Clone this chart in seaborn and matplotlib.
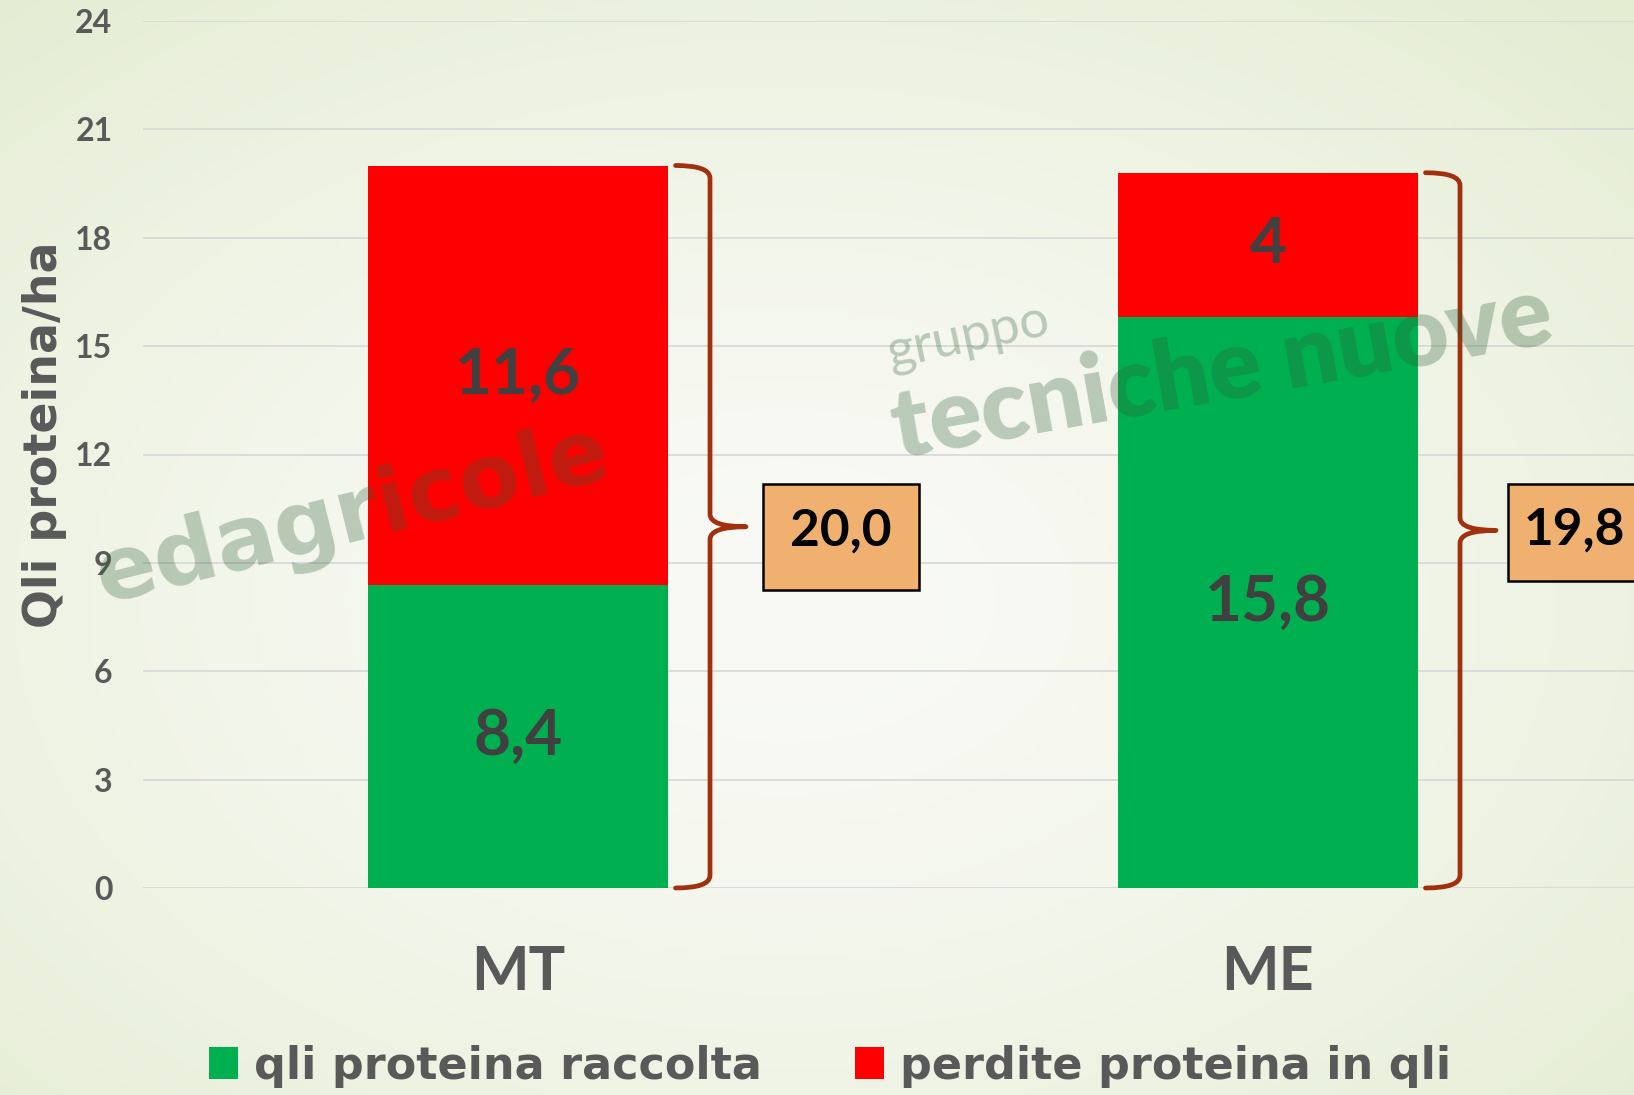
import numpy as np
import pandas as pd
import matplotlib
matplotlib.use("Agg")
import matplotlib.pyplot as plt
import seaborn as sns
from matplotlib.path import Path
from matplotlib.patches import PathPatch, Rectangle, Patch

# ---- data ----
categories = ["MT", "ME"]
raccolta = [8.4, 15.8]
perdite = [11.6, 4.0]
totals_labels = ["20,0", "19,8"]
raccolta_labels = ["8,4", "15,8"]
perdite_labels = ["11,6", "4"]
y_ticks = [0, 3, 6, 9, 12, 15, 18, 21, 24]
ylabel = "Qli proteina/ha"
legend_labels = ["qli proteina raccolta", "perdite proteina in qli"]

GREEN = "#00B050"
RED = "#FF0000"
BRACE = "#A0300E"
BOX = "#F0B170"
TXT = "#404040"
TICK = "#595959"

sns.set_theme(style="white")
FONT = ["Lato", "DejaVu Sans"]
WIDE = ["DejaVu Sans"]
plt.rcParams["font.family"] = FONT

W, H = 1634, 1095
fig = plt.figure(figsize=(W / 100, H / 100), dpi=100)

# background gradient
bg = fig.add_axes([0, 0, 1, 1], zorder=-10)
yy, xx = np.mgrid[0:1:300j, 0:1:450j]
r = np.sqrt(((xx - 0.48) / 0.75) ** 2 + ((yy - 0.45) / 0.75) ** 2)
r = np.clip(r, 0, 1)
c_center = np.array([249, 250, 245]) / 255
c_edge = np.array([228, 236, 210]) / 255
img = c_center[None, None, :] * (1 - r[..., None] ** 1.5) + c_edge[None, None, :] * (r[..., None] ** 1.5)
bg.imshow(img, aspect="auto", extent=[0, 1, 0, 1], origin="lower")
bg.set_axis_off()

ax = fig.add_axes([143 / W, 1 - 888 / H, 1 - 143 / W, (888 - 21) / H])
ax.patch.set_alpha(0)

df = pd.DataFrame({
    "cat": categories,
    "raccolta": raccolta,
    "perdite": perdite,
})
df["totale"] = df["raccolta"] + df["perdite"]

BW = 0.40
sns.barplot(data=df, x="cat", y="totale", color=RED, saturation=1, width=BW, ax=ax, zorder=3)
sns.barplot(data=df, x="cat", y="raccolta", color=GREEN, saturation=1, width=BW, ax=ax, zorder=3)
for p in ax.patches:
    p.set_edgecolor("none")

ax.set_ylim(0, 24)
ax.set_xlim(-0.5, 1.488)
ax.set_yticks(y_ticks)
ax.set_yticklabels([str(t) for t in y_ticks], fontsize=23, fontweight="bold", color=TICK)
ax.tick_params(axis="y", length=0, pad=22)
ax.tick_params(axis="x", length=0, pad=40)
ax.set_xticks(range(len(categories)))
ax.set_xticklabels(categories, fontsize=44, fontweight="bold", color=TICK)
ax.set_xlabel("")
ax.set_ylabel("")
ax.yaxis.grid(True, color="#D9D9D9", lw=1.3, zorder=0)
ax.set_axisbelow(True)
for s in ax.spines.values():
    s.set_visible(False)

fig.text(45 / W, 1 - 435 / H, ylabel, rotation=90, ha="center", va="center",
         fontsize=33, fontweight="bold", color=TICK, family=WIDE)

# value labels
for i in range(len(categories)):
    g = raccolta[i]
    rr = perdite[i]
    ax.text(i, g / 2, raccolta_labels[i], ha="center", va="center", fontsize=46,
            fontweight="bold", color=TXT, zorder=6)
    ax.text(i, g + rr / 2, perdite_labels[i], ha="center", va="center", fontsize=46,
            fontweight="bold", color=TXT, zorder=6)

# braces and total boxes
def brace(ax, xc, top):
    x0, x1, x2 = xc + 0.21, xc + 0.256, xc + 0.304
    mid = top / 2
    rr = 0.35
    verts = [
        (x0, top), (x1, top), (x1, top - rr),
        (x1, mid + rr),
        (x1, mid), (x2, mid),
        (x1, mid), (x1, mid - rr),
        (x1, rr),
        (x1, 0), (x0, 0),
    ]
    codes = [Path.MOVETO, Path.CURVE3, Path.CURVE3,
             Path.LINETO,
             Path.CURVE3, Path.CURVE3,
             Path.CURVE3, Path.CURVE3,
             Path.LINETO,
             Path.CURVE3, Path.CURVE3]
    ax.add_patch(PathPatch(Path(verts, codes), fill=False, edgecolor=BRACE, lw=3.4,
                           capstyle="round", joinstyle="round", zorder=5, clip_on=False))

box_off = [0.327, 0.32]
box_bottom = [8.25, 8.51]
box_top = [11.19, 11.19]
text_off = [0.1035, 0.089]
for i in range(len(categories)):
    tot = raccolta[i] + perdite[i]
    brace(ax, i, tot)
    bx = i + box_off[i]
    by = box_bottom[i]
    bh = box_top[i] - box_bottom[i]
    ax.add_patch(Rectangle((bx, by), 0.207, bh, facecolor=BOX, edgecolor="black",
                           lw=1.8, zorder=5, clip_on=False))
    ax.text(bx + text_off[i], by + bh / 2 + (0.15 if i == 0 else 0.05), totals_labels[i],
            ha="center", va="center", fontsize=37, fontweight="bold", color="black", zorder=6)

# watermark
wm = dict(color="#2F5E38", alpha=0.3, fontweight="heavy", zorder=7, ha="center", va="center")
fig.text(352 / W, 1 - 516 / H, "edagricole", rotation=14, fontsize=64, family=WIDE, **wm)
fig.text(1222 / W, 1 - 372 / H, "tecniche nuove", rotation=10, fontsize=70, **wm)
fig.text(968 / W, 1 - 337 / H, "gruppo", rotation=12, fontsize=38,
         color="#2F5E38", alpha=0.3, zorder=7, ha="center", va="center")

# legend
handles = [Patch(facecolor=GREEN, edgecolor="none"), Patch(facecolor=RED, edgecolor="none")]
fig.legend(handles, legend_labels, loc="center", bbox_to_anchor=(0.508, 1 - 1066 / H), ncol=2,
           frameon=False, handlelength=0.65, handleheight=0.7, handletextpad=0.35,
           columnspacing=2.1, labelcolor=TICK,
           prop={"weight": "bold", "size": 32, "family": "DejaVu Sans"})

fig.savefig("out.png", dpi=100)
